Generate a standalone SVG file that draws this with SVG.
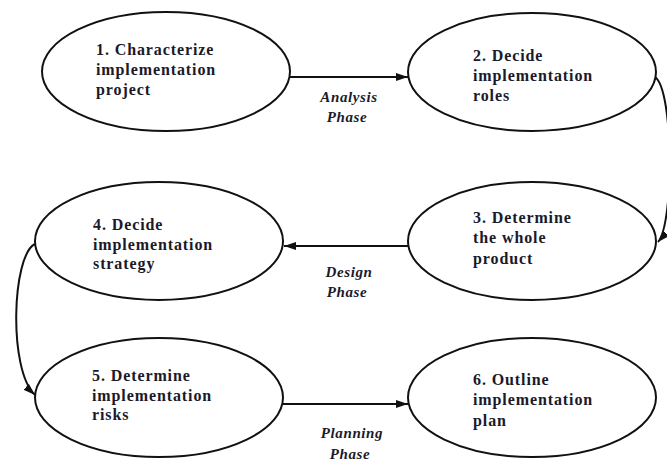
<svg xmlns="http://www.w3.org/2000/svg" width="667" height="461" viewBox="0 0 667 461">
  <style>
    .node ellipse { fill: #ffffff; stroke: #111111; stroke-width: 2; }
    .node text { font-family: "Liberation Serif", "Times New Roman", serif; font-weight: bold; font-size: 16px; letter-spacing: 0.9px; fill: #1a1a2a; }
    .edge { fill: none; stroke: #111111; stroke-width: 2; marker-end: url(#arrow); }
    .phase { font-family: "Liberation Serif", "Times New Roman", serif; font-weight: bold; font-style: italic; font-size: 15px; letter-spacing: 0.6px; fill: #1a1a2a; text-anchor: middle; }
  </style>
  <defs>
    <marker id="arrow" markerUnits="userSpaceOnUse" markerWidth="13" markerHeight="9" refX="12" refY="4" orient="auto">
      <path d="M0,0 L12,4 L0,8 z" fill="#111111"/>
    </marker>
  </defs>
  <rect width="667" height="461" fill="#ffffff"/>

  <g id="connectors">
    <line class="edge" x1="290" y1="77" x2="408" y2="77"/>
    <path class="edge" d="M655,77 C674,90 674,225 658,242"/>
    <line class="edge" x1="408" y1="246" x2="284" y2="246"/>
    <path class="edge" d="M35,244 C12,255 8,370 35,395"/>
    <line class="edge" x1="283" y1="404" x2="408" y2="404"/>
    <text class="phase"><tspan x="349" y="102">Analysis</tspan><tspan x="347" y="122">Phase</tspan></text>
    <text class="phase"><tspan x="349" y="277">Design</tspan><tspan x="347" y="297">Phase</tspan></text>
    <text class="phase"><tspan x="352" y="438">Planning</tspan><tspan x="350" y="459">Phase</tspan></text>
  </g>

  <g id="node1" class="node">
    <ellipse cx="166" cy="71.5" rx="124" ry="59.5"/>
    <text><tspan x="96" y="55">1. Characterize</tspan><tspan x="96" y="75">implementation</tspan><tspan x="96" y="95">project</tspan></text>
  </g>
  <g id="node2" class="node">
    <ellipse cx="532" cy="72" rx="124" ry="59"/>
    <text><tspan x="473" y="61">2. Decide</tspan><tspan x="473" y="81">implementation</tspan><tspan x="473" y="101">roles</tspan></text>
  </g>
  <g id="node3" class="node">
    <ellipse cx="532" cy="241" rx="124" ry="59"/>
    <text><tspan x="473" y="223">3. Determine</tspan><tspan x="473" y="243">the whole</tspan><tspan x="473" y="264">product</tspan></text>
  </g>
  <g id="node4" class="node">
    <ellipse cx="159" cy="241" rx="124" ry="59"/>
    <text><tspan x="93" y="230">4. Decide</tspan><tspan x="93" y="250">implementation</tspan><tspan x="93" y="269">strategy</tspan></text>
  </g>
  <g id="node5" class="node">
    <ellipse cx="159" cy="397.5" rx="124" ry="59.5"/>
    <text><tspan x="92" y="381">5. Determine</tspan><tspan x="92" y="401">implementation</tspan><tspan x="92" y="420">risks</tspan></text>
  </g>
  <g id="node6" class="node">
    <ellipse cx="532" cy="397.5" rx="124" ry="59.5"/>
    <text><tspan x="473" y="385">6. Outline</tspan><tspan x="473" y="405">implementation</tspan><tspan x="473" y="426">plan</tspan></text>
  </g>
</svg>
